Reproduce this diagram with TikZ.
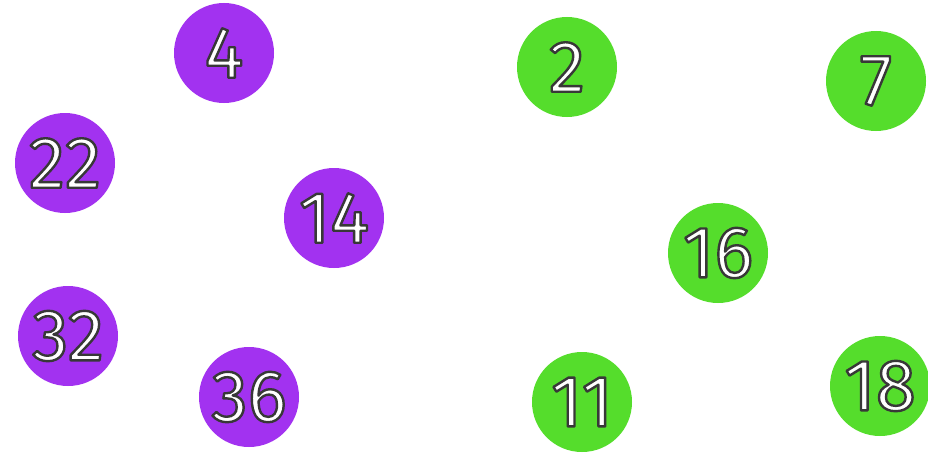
\documentclass[tikz,border=0pt]{standalone}
\usepackage{fontspec}
\setmainfont{Fira Sans}
\definecolor{pur}{HTML}{A232F0}
\definecolor{grn}{HTML}{55DD2C}
\begin{document}
\begin{tikzpicture}[x=1pt,y=-1pt,
  ball/.style={circle,minimum size=100pt,inner sep=0pt,text=white,font=\fontsize{73}{73}\selectfont},
  pball/.style={ball,fill=pur},
  gball/.style={ball,fill=grn}]
\useasboundingbox[fill=white] (0,0) rectangle (928,452);
\newcommand{\lbl}[1]{\special{pdf:literal direct 0.22 0.22 0.22 RG 2.4 w 1 j 2 Tr}#1\special{pdf:literal direct 0 Tr}}
\node[pball] (n4) at (224,53) {\lbl{4}};
\node[pball] (n22) at (65,163) {\lbl{22}};
\node[pball] (n14) at (334,218) {\lbl{14}};
\node[pball] (n32) at (68,336) {\lbl{32}};
\node[pball] (n36) at (249,397) {\lbl{36}};
\node[gball] (n2) at (567,67) {\lbl{2}};
\node[gball] (n7) at (876,81) {\lbl{7}};
\node[gball] (n16) at (718,253) {\lbl{16}};
\node[gball] (n11) at (582,402) {\lbl{11}};
\node[gball] (n18) at (880,386) {\lbl{18}};
\end{tikzpicture}
\end{document}
